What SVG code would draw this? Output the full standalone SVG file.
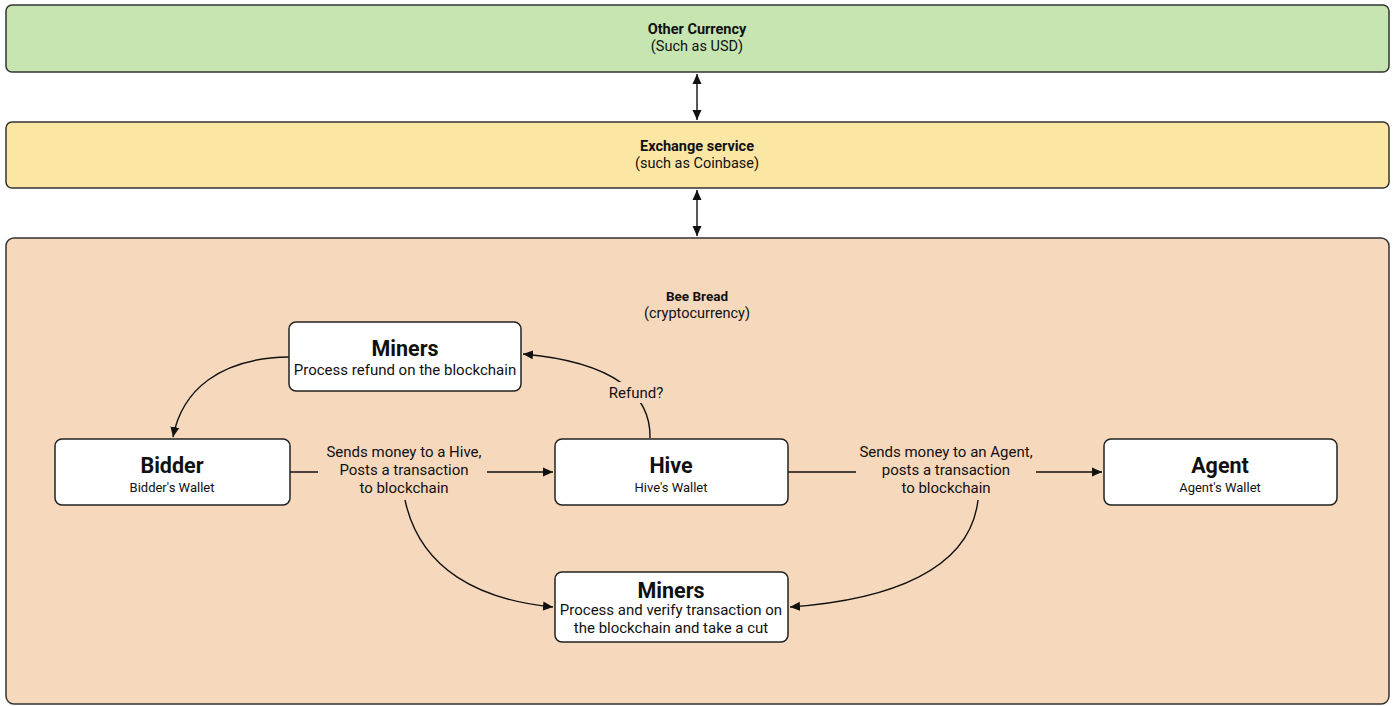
<svg xmlns="http://www.w3.org/2000/svg" width="1396" height="706" viewBox="0 0 1396 706">
<style>
.band{stroke:#333;stroke-width:1.5}
.node{fill:#fff;stroke:#222;stroke-width:1.5}
text{font-family:Roboto,"Liberation Sans",sans-serif;fill:#111;text-anchor:middle}
.bt{font-size:14.5px;font-weight:bold}
.bs{font-size:14.5px}
.title{font-size:21.5px;font-weight:bold}
.sub{font-size:13px}
.sub2{font-size:15px}
.lbl{font-size:15px}
.conn{fill:none;stroke:#111;stroke-width:1.4}
.lb{fill:#f6d8bd}
</style>
<defs>
<marker id="ah" viewBox="0 0 10 10" refX="10" refY="5" markerWidth="10" markerHeight="10" markerUnits="userSpaceOnUse" orient="auto-start-reverse">
<path d="M0,0.5 L10,5 L0,9.5 z" fill="#111"/>
</marker>
</defs>
<rect width="1396" height="706" fill="#fff"/>
<g id="other-currency">
<rect class="band" x="6" y="5" width="1383" height="67" rx="6" fill="#c6e5b0"/>
<text class="bt" x="697" y="34">Other Currency</text>
<text class="bs" x="697" y="51">(Such as USD)</text>
</g>
<g id="exchange-service">
<rect class="band" x="6" y="122" width="1383" height="66" rx="6" fill="#fbe6a3"/>
<text class="bt" x="697" y="151">Exchange service</text>
<text class="bs" x="697" y="168">(such as Coinbase)</text>
</g>
<g id="bee-bread">
<rect class="band" x="6" y="238" width="1383" height="466" rx="8" fill="#f6d8bd"/>
<text class="bt" x="697" y="301" style="font-size:13.5px">Bee Bread</text>
<text class="bs" x="697" y="318">(cryptocurrency)</text>
</g>
<g id="connectors">
<path class="conn" d="M697,74 L697,120" marker-start="url(#ah)" marker-end="url(#ah)"/>
<path class="conn" d="M697,190 L697,236" marker-start="url(#ah)" marker-end="url(#ah)"/>
<path class="conn" d="M289,357 C220,358 182,390 173,437" marker-end="url(#ah)"/>
<path class="conn" d="M650,438 C651,395 615,362 523,354" marker-end="url(#ah)"/>
<path class="conn" d="M290,472 L553,472" marker-end="url(#ah)"/>
<path class="conn" d="M788,472 L1102,472" marker-end="url(#ah)"/>
<path class="conn" d="M405,500 C420,570 480,600 553,607" marker-end="url(#ah)"/>
<path class="conn" d="M978,500 C970,570 890,600 790,607" marker-end="url(#ah)"/>
<rect class="lb" x="603" y="382" width="66" height="21"/>
<text class="lbl" x="636" y="398">Refund?</text>
<rect class="lb" x="318" y="441" width="169" height="58"/>
<text class="lbl" x="404" y="457">Sends money to a Hive,</text>
<text class="lbl" x="404" y="475">Posts a transaction</text>
<text class="lbl" x="404" y="493">to blockchain</text>
<rect class="lb" x="856" y="441" width="180" height="58"/>
<text class="lbl" x="946" y="457">Sends money to an Agent,</text>
<text class="lbl" x="946" y="475">posts a transaction</text>
<text class="lbl" x="946" y="493">to blockchain</text>
</g>
<g id="miners-refund">
<rect class="node" x="289" y="322" width="232" height="69" rx="7"/>
<text class="title" x="405" y="356">Miners</text>
<text class="sub2" x="405" y="375">Process refund on the blockchain</text>
</g>
<g id="bidder">
<rect class="node" x="55" y="439" width="235" height="66" rx="7"/>
<text class="title" x="172" y="473">Bidder</text>
<text class="sub" x="172" y="492">Bidder's Wallet</text>
</g>
<g id="hive">
<rect class="node" x="555" y="439" width="233" height="66" rx="7"/>
<text class="title" x="671" y="473">Hive</text>
<text class="sub" x="671" y="492">Hive's Wallet</text>
</g>
<g id="agent">
<rect class="node" x="1104" y="439" width="233" height="66" rx="7"/>
<text class="title" x="1220" y="473">Agent</text>
<text class="sub" x="1220" y="492">Agent's Wallet</text>
</g>
<g id="miners-verify">
<rect class="node" x="555" y="572" width="233" height="70" rx="7"/>
<text class="title" x="671" y="598">Miners</text>
<text class="sub2" x="671" y="615">Process and verify transaction on</text>
<text class="sub2" x="671" y="633">the blockchain and take a cut</text>
</g>
</svg>
